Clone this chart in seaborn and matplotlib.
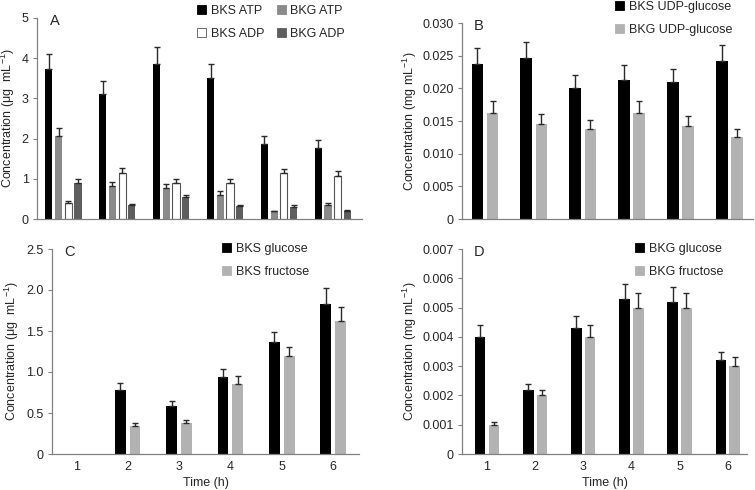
import pandas as pd
import numpy as np
import matplotlib
matplotlib.use("Agg")
import matplotlib.pyplot as plt
from matplotlib.patches import Patch
import seaborn as sns

# time points (h)
times = [1, 2, 3, 4, 5, 6]

# Panel A - nucleotides (ug/mL)
bks_atp = [3.73, 3.11, 3.86, 3.50, 1.87, 1.77]
bks_atp_err = [0.37, 0.33, 0.41, 0.36, 0.19, 0.20]
bkg_atp = [2.06, 0.83, 0.77, 0.60, 0.19, 0.35]
bkg_atp_err = [0.20, 0.08, 0.10, 0.09, 0.02, 0.05]
bks_adp = [0.40, 1.14, 0.90, 0.90, 1.14, 1.08]
bks_adp_err = [0.06, 0.13, 0.10, 0.10, 0.11, 0.11]
bkg_adp = [0.90, 0.34, 0.54, 0.33, 0.30, 0.20]
bkg_adp_err = [0.10, 0.04, 0.06, 0.03, 0.05, 0.03]

# Panel B - UDP-glucose (mg/mL)
bks_udpg = [0.0237, 0.0246, 0.0200, 0.0213, 0.0209, 0.0242]
bks_udpg_err = [0.0025, 0.0025, 0.0021, 0.0022, 0.0021, 0.0024]
bkg_udpg = [0.0162, 0.0146, 0.0137, 0.0162, 0.0142, 0.0126]
bkg_udpg_err = [0.0018, 0.0015, 0.0014, 0.0018, 0.0015, 0.0012]

# Panel C - BKS sugars (ug/mL)
bks_glc = [0.0, 0.78, 0.58, 0.94, 1.36, 1.83]
bks_glc_err = [0.0, 0.08, 0.07, 0.10, 0.13, 0.19]
bks_fru = [0.0, 0.34, 0.38, 0.85, 1.20, 1.62]
bks_fru_err = [0.0, 0.04, 0.04, 0.10, 0.11, 0.17]

# Panel D - BKG sugars (mg/mL)
bkg_glc = [0.0040, 0.0022, 0.0043, 0.0053, 0.0052, 0.0032]
bkg_glc_err = [0.0004, 0.0002, 0.0004, 0.0005, 0.0005, 0.0003]
bkg_fru = [0.0010, 0.0020, 0.0040, 0.0050, 0.0050, 0.0030]
bkg_fru_err = [0.0001, 0.0002, 0.0004, 0.0005, 0.0005, 0.0003]

sns.set_style("ticks")
plt.rcParams["font.family"] = ["Liberation Sans", "DejaVu Sans"]
plt.rcParams["mathtext.fontset"] = "custom"
plt.rcParams["mathtext.rm"] = "Liberation Sans"
plt.rcParams["mathtext.it"] = "Liberation Sans"
plt.rcParams["font.size"] = 9

FS = 9
W, H = 755, 490
fig = plt.figure(figsize=(W / 100, H / 100), dpi=100)


def px_axes(left, top, right, bottom):
    ax = fig.add_axes([left / W, (H - bottom) / H, (right - left) / W, (bottom - top) / H])
    ax._px = (left, right)
    return ax


def draw_panel(ax, series, colors, edges, width, gap, ylim, yticks, ylabels,
               xlim, letter, ylabel, ylabel_x, legend_xy, ncol, bottom_row, leg_order=None):
    rows = []
    for name, vals, errs in series:
        for t, v in zip(times, vals):
            rows.append({"time": t, "value": v, "series": name})
    df = pd.DataFrame(rows)
    names = [s[0] for s in series]
    sns.barplot(data=df, x="time", y="value", hue="series", hue_order=names,
                palette=colors, width=width, gap=gap, dodge=True, ax=ax,
                legend=False, errorbar=None, saturation=1)
    # edges and error bars (upper half only)
    for cont, (name, vals, errs), ec in zip(ax.containers, series, edges):
        xs, ys, es = [], [], []
        for bar, v, e in zip(cont, vals, errs):
            bar.set_edgecolor(ec)
            bar.set_linewidth(0.8 if ec != "none" else 0)
            if v > 0:
                xs.append(bar.get_x() + bar.get_width() / 2)
                ys.append(v)
                es.append(e)
        ax.errorbar(xs, ys, yerr=[np.zeros(len(es)), es], fmt="none",
                    ecolor="#2a2a2a", elinewidth=1, capsize=2.5, capthick=1)

    ax.set_xlim(xlim)
    ax.set_ylim(ylim)
    ax.set_yticks(yticks)
    ax.set_yticklabels(ylabels)
    ax.set_ylabel(ylabel, fontsize=FS)
    left, right = ax._px
    # label x given in figure pixels (right edge of the rotated text)
    ax.yaxis.set_label_coords((ylabel_x - left) / (right - left), 0.5)
    if bottom_row:
        ax.set_xticks(range(6))
        ax.set_xticklabels([str(t) for t in times])
        ax.set_xlabel("Time (h)", fontsize=FS, labelpad=3)
        ax.tick_params(axis="x", length=0, pad=5, labelsize=FS)
    else:
        ax.set_xticks([])
        ax.set_xlabel("")
    ax.tick_params(axis="y", length=3, width=0.8, color="#808080", labelsize=FS, pad=3)
    sns.despine(ax=ax)
    for sp in ["left", "bottom"]:
        ax.spines[sp].set_color("#808080")
        ax.spines[sp].set_linewidth(0.9)
    ax.text(0.04, 0.985, letter, transform=ax.transAxes, fontsize=10.5,
            ha="left", va="center")
    handles = [Patch(facecolor=c, edgecolor=("#555555" if e != "none" else c), linewidth=0.6)
               for c, e in zip(colors, edges)]
    labels = list(names)
    if leg_order is not None:
        handles = [handles[i] for i in leg_order]
        labels = [labels[i] for i in leg_order]
    ax.legend(handles, labels, loc="upper left",
              bbox_to_anchor=(legend_xy[0] / W, 1 - legend_xy[1] / H),
              bbox_transform=fig.transFigure, ncol=ncol, frameon=False,
              borderpad=0, borderaxespad=0, handlelength=0.7, handleheight=0.7,
              handletextpad=0.4, labelspacing=0.85, columnspacing=1.0, fontsize=FS)


axA = px_axes(37, 18, 362, 219)
draw_panel(axA,
           [("BKS ATP", bks_atp, bks_atp_err), ("BKG ATP", bkg_atp, bkg_atp_err),
            ("BKS ADP", bks_adp, bks_adp_err), ("BKG ADP", bkg_adp, bkg_adp_err)],
           ["#000000", "#8a8a8a", "#ffffff", "#5e5e5e"],
           ["none", "none", "#555555", "none"],
           0.72, 0.25, (0, 5), [0, 1, 2, 3, 4, 5], ["0", "1", "2", "3", "4", "5"],
           (-0.49, 5.54), "A", "Concentration (μg  mL$^{-1}$)", 17, (197, 5), 2, False,
           leg_order=[0, 2, 1, 3])

axB = px_axes(462, 23, 753, 219)
draw_panel(axB,
           [("BKS UDP-glucose", bks_udpg, bks_udpg_err),
            ("BKG UDP-glucose", bkg_udpg, bkg_udpg_err)],
           ["#000000", "#b2b2b2"], ["none", "none"],
           0.62, 0.23, (0, 0.030), [0, 0.005, 0.010, 0.015, 0.020, 0.025, 0.030],
           ["0", "0.005", "0.010", "0.015", "0.020", "0.025", "0.030"],
           (-0.47, 5.48), "B", "Concentration (mg mL$^{-1}$)", 419, (615, 1), 1, False)

axC = px_axes(52, 249, 359, 454)
draw_panel(axC,
           [("BKS glucose", bks_glc, bks_glc_err), ("BKS fructose", bks_fru, bks_fru_err)],
           ["#000000", "#b2b2b2"], ["none", "none"],
           0.58, 0.27, (0, 2.5), [0, 0.5, 1.0, 1.5, 2.0, 2.5],
           ["0", "0.5", "1.0", "1.5", "2.0", "2.5"],
           (-0.47, 5.5), "C", "Concentration (μg  mL$^{-1}$)", 21, (222, 243), 1, True)

axD = px_axes(462, 249, 747, 454)
draw_panel(axD,
           [("BKG glucose", bkg_glc, bkg_glc_err), ("BKG fructose", bkg_fru, bkg_fru_err)],
           ["#000000", "#b2b2b2"], ["none", "none"],
           0.57, 0.23, (0, 0.007), [0, 0.001, 0.002, 0.003, 0.004, 0.005, 0.006, 0.007],
           ["0", "0.001", "0.002", "0.003", "0.004", "0.005", "0.006", "0.007"],
           (-0.52, 5.4), "D", "Concentration (mg mL$^{-1}$)", 419, (635, 243), 1, True)

fig.savefig("out.png", dpi=100)
